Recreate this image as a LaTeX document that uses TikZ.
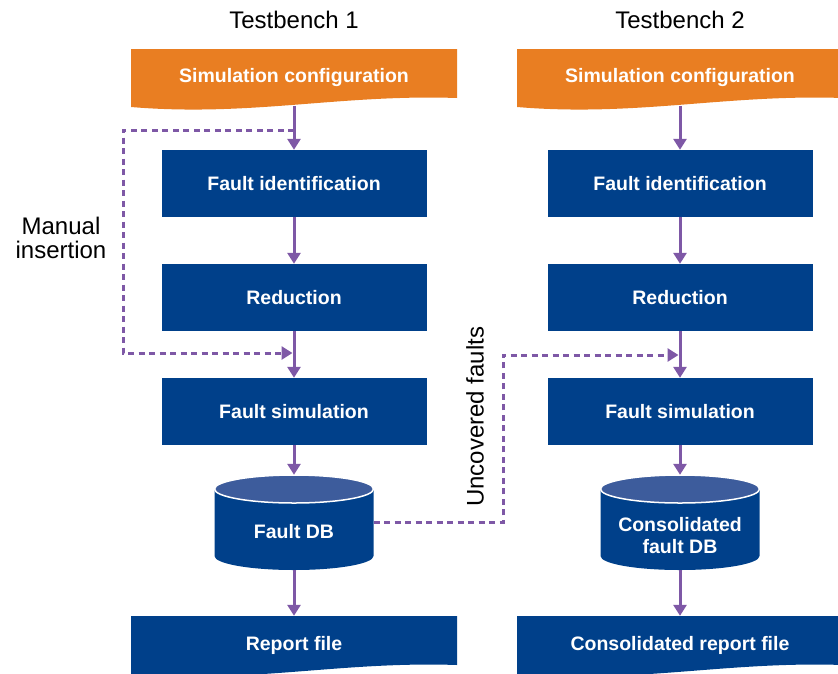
\documentclass[tikz,border=0pt]{standalone}
\usepackage{fontspec}
\setmainfont{Liberation Sans}
\usetikzlibrary{arrows.meta}
\definecolor{dbblue}{RGB}{0,64,138}
\definecolor{dbtop}{RGB}{61,92,156}
\definecolor{cfgorange}{RGB}{233,126,34}
\definecolor{flowpurple}{RGB}{126,88,166}
\newcommand{\docshape}[3]{%
  \fill[#3] (#1,#2) -- (#1+326,#2) -- (#1+326,#2+49)
    .. controls (#1+209,#2+45) and (#1+119,#2+68) .. (#1,#2+58) -- cycle;}
\newcommand{\dbcyl}[2]{%
  \fill[dbblue] (#1-79.5,#2+14) -- (#1-79.5,#2+81)
    arc[start angle=180,end angle=360,x radius=79.5pt,y radius=14pt]
    -- (#1+79.5,#2+14) -- cycle;
  \draw[white,line width=1.5pt,fill=dbtop] (#1,#2+14) ellipse[x radius=79.5pt,y radius=14pt];}
\tikzset{
  proc/.style={fill=dbblue, text=white, minimum width=265pt, minimum height=67pt,
    inner sep=0pt, font=\bfseries\fontsize{19.5}{22}\selectfont, text height=14pt, text depth=0pt},
  doclbl/.style={text=white, inner sep=0pt, minimum width=326pt,
    font=\bfseries\fontsize{19.5}{22}\selectfont, text height=14pt, text depth=0pt},
  dblbl/.style={text=white, inner sep=0pt, align=center,
    font=\bfseries\fontsize{19.5}{22}\selectfont},
  dbnode/.style={minimum width=159pt, minimum height=95pt, inner sep=0pt},
  ttl/.style={font=\fontsize{24}{24}\selectfont, inner sep=0pt},
  flow/.style={draw=flowpurple, line width=3pt, -{Triangle[width=13pt,length=11pt]}},
  fback/.style={flow, dash pattern=on 6pt off 4.5pt},
}
\begin{document}
\begin{tikzpicture}[x=1pt,y=-1pt]
\useasboundingbox (0,0) rectangle (838,673);
\clip (0,0) rectangle (838,673);
% backgrounds
\docshape{131}{49}{cfgorange}
\docshape{517}{49}{cfgorange}
\docshape{131}{616}{dbblue}
\docshape{517}{616}{dbblue}
\dbcyl{294}{475}
\dbcyl{680}{475}
% titles
\node[ttl, anchor=base] (tb1) at (294,28.3) {Testbench 1};
\node[ttl, anchor=base] (tb2) at (680,28.3) {Testbench 2};
% column 1
\node[doclbl, minimum height=62pt] (cfg1) at (294,75) {Simulation configuration};
\node[proc] (fid1) at (294,183.5) {Fault identification};
\node[proc] (red1) at (294,297.5) {Reduction};
\node[proc] (fsim1) at (294,411.5) {Fault simulation};
\node[dbnode] (fdb1) at (294,522.5) {};
\node[dblbl] (fdbt1) at (294,532) {Fault DB};
\node[doclbl, minimum height=54pt] (rep1) at (294,643) {Report file};
% column 2
\node[doclbl, minimum height=62pt] (cfg2) at (680,75) {Simulation configuration};
\node[proc] (fid2) at (680,183.5) {Fault identification};
\node[proc] (red2) at (680,297.5) {Reduction};
\node[proc] (fsim2) at (680,411.5) {Fault simulation};
\node[dbnode] (fdb2) at (680,522.5) {};
\node[dblbl] (fdbt2) at (680,536) {Consolidated\\fault DB};
\node[doclbl, minimum height=54pt] (rep2) at (680,643) {Consolidated report file};
% side labels
\node[ttl, align=center] (man) at (61,237.5) {Manual\\insertion};
\node[ttl, rotate=90] (unc) at (475,416.7) {Uncovered faults};
% flows
\foreach \c in {1,2}{
  \draw[flow] (cfg\c.south) -- (fid\c.north);
  \draw[flow] (fid\c.south) -- (red\c.north);
  \draw[flow] (red\c.south) -- (fsim\c.north);
  \draw[flow] (fsim\c.south) -- (fdb\c.north);
  \draw[flow] (fdb\c.south) -- (rep\c.north);
}
% feedback dashed
\coordinate (m1) at (294,130);
\coordinate (ma) at (123,353);
\coordinate (m2) at (292.5,353);
\draw[fback] (m1) -| (ma) -- (m2);
\coordinate (ub) at (503,355);
\coordinate (m3) at (678.5,355);
\draw[fback] (fdb1.east) -| (ub) -- (m3);
\end{tikzpicture}
\end{document}
